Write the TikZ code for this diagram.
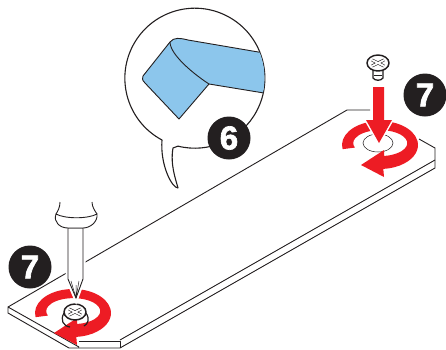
\documentclass[tikz,border=0pt]{standalone}
\usepackage{fontspec}
\setmainfont{Liberation Sans}[BoldFeatures={FakeBold=2}]
\usepackage{tikz}
\definecolor{turnred}{HTML}{ED1C24}
\definecolor{tapeblue}{HTML}{8CC6EC}
\definecolor{inkblack}{HTML}{231F20}

\begin{document}
\begin{tikzpicture}[
    x=1pt, y=-1pt,
    edge/.style={draw=inkblack, line width=0.9pt, line join=round},
    thin edge/.style={draw=inkblack, line width=0.5pt},
    slot/.style={draw=inkblack, line width=0.6pt, double=white, double distance=1.8pt},
    badge/.style={circle, fill=inkblack, text=white, minimum size=43pt, inner sep=0pt,
                  font=\fontsize{33}{33}\selectfont\bfseries},
    turnarrow/.pic={
        \fill[turnred] (170:38 and 24) arc[start angle=170, end angle=445, x radius=38, y radius=24]
            -- (4,32) -- (-19,20) -- (4,5) -- (4,11)
            arc[start angle=442, end angle=160, x radius=27, y radius=13] -- cycle;
    },
    screwhead/.pic={
        \draw[edge, line width=1.5pt, fill=white] (0,0) ellipse[x radius=11, y radius=8];
        \draw[slot] (-6,-3) -- (6,3) (6,-3) -- (-6,3);
    },
]
\useasboundingbox (0,0) rectangle (446,349);

% board
\draw[edge] (8,307) -- (347,110) -- (370,110);
\draw[edge] (419,139) -- (435,148) -- (435,168) -- (120,348) -- (69,348) -- (8,313) -- (8,307) -- (79,347);
\draw[edge] (79,341) -- (120,341) -- (120,348);
\draw[edge] (120,340) -- (435,160);

% bubble
\draw[edge, line width=1.1pt, fill=white] (162,140) arc[start angle=118, delta angle=346, radius=70]
    -- (173,148) .. controls (170,165) and (176,180) .. (178,188)
    .. controls (172,188) and (160,165) .. cycle;
\begin{scope}
\clip (194.5,78) circle[radius=70];
\fill[tapeblue, edge] (170,42) .. controls (174,37) and (180,38) .. (188,40) -- (270,54) -- (270,94) -- (209,84) -- (179,119)
    -- (145,83) .. controls (142,80) and (142,78) .. (143,76) -- cycle;
\draw[edge] (170,42) .. controls (170,55) and (195,75) .. (209,84);
\end{scope}
\node[badge] (six) at (229,138) {6};

% left turn and screw
\pic at (73,313) {turnarrow};
\draw[edge, line width=1.2pt] (64,313) .. controls (60,320) and (63,326) .. (70,327);
\draw[edge, line width=1.2pt] (86,313) .. controls (90,319) and (88,324) .. (84,326);
\pic at (75,312) {screwhead};

% screwdriver
\draw[edge, fill=white, preaction={draw=white, line width=5pt}]
    (68,228) -- (68,279) -- (76,298) -- (83,279) -- (83,228) -- cycle;
\draw[thin edge] (71,281) -- (76,298) -- (79,281) (76,285) -- (76,298);
\draw[edge, fill=white] (56,214) .. controls (65,219) and (88,219) .. (97,214)
    .. controls (98,222) and (90,228) .. (83,228) -- (68,228) .. controls (60,228) and (53,222) .. (56,214) -- cycle;
\draw[edge] (60,202) .. controls (60,207) and (58,211) .. (56,214) (92,202) .. controls (92,207) and (95,211) .. (97,214);
\node[badge] (leftseven) at (30,267) {7};

% right turn and screw
\draw[thin edge] (378,143) ellipse[x radius=15, y radius=9];
\pic at (380,145) {turnarrow};
\fill[turnred, preaction={draw=white, line width=3pt}] (373,87) -- (384,87) -- (384,120) -- (392,120) -- (379,143)
    -- (366,120) -- (373,120) -- cycle;
\draw[edge, line width=1.3pt, fill=white] (373,70) -- (373,78) .. controls (375,81) and (381,81) .. (383,78) -- (383,70);
\draw[edge] (374,75) -- (382,75);
\pic at (378,63) {screwhead};
\node[badge] (rightseven) at (425,95) {7};
\end{tikzpicture}
\end{document}
